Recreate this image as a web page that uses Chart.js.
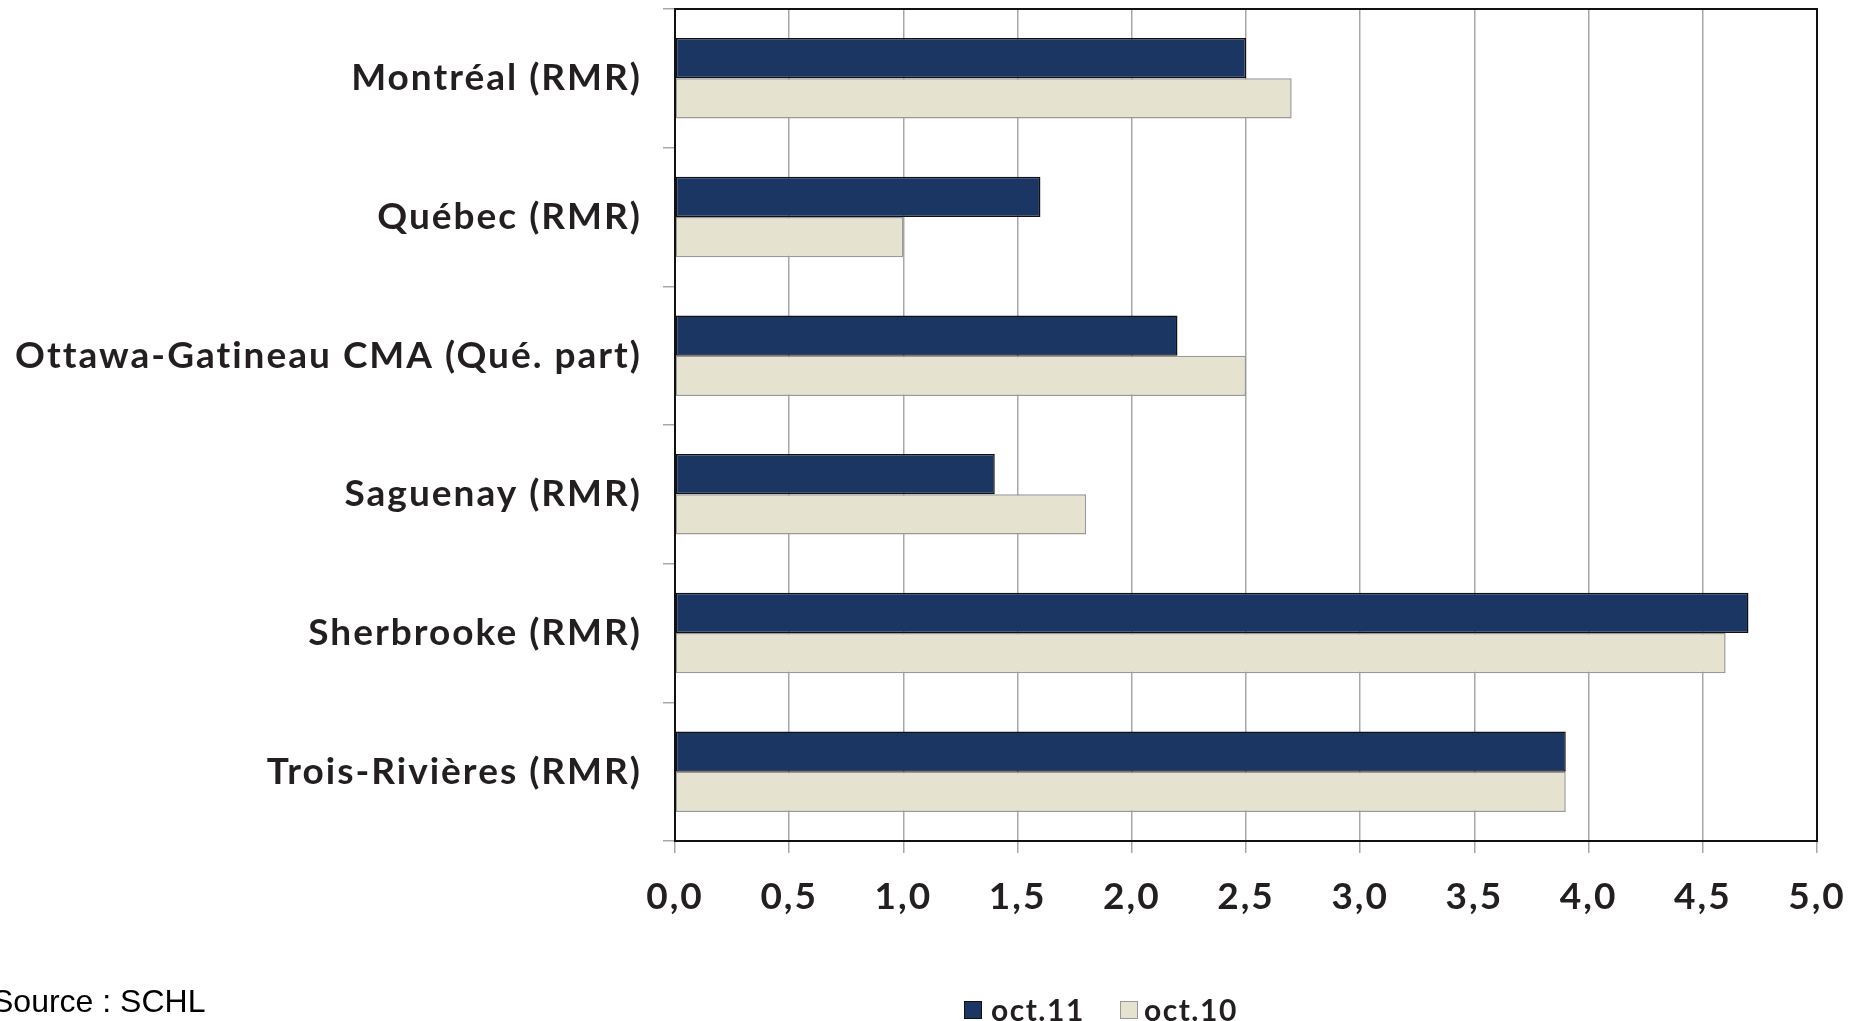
<!DOCTYPE html>
<html>
<head>
<meta charset="utf-8">
<script src="https://cdn.jsdelivr.net/npm/chart.js@4"></script>
<style>
  html, body { margin:0; padding:0; background:#fff; }
  #wrap { position:relative; width:1860px; height:1021px; overflow:hidden; }
  canvas { position:absolute; left:0; top:0; }
  .leg { position:absolute; font-family:Lato, sans-serif; font-weight:700; font-size:30px; color:#231f20; line-height:1; letter-spacing:1.5px; }
  .sw { position:absolute; width:16px; height:16px; }
  #src { position:absolute; left:-8px; top:983px; font-family:"Liberation Sans", Arial, sans-serif; font-size:32px; color:#000; }
</style>
</head>
<body>
<div id="wrap">
  <canvas id="c" width="1860" height="1021"></canvas>
  <div class="sw" style="left:964px; top:1001px; background:#1c3664; border:1.5px solid #111;"></div>
  <div class="leg" style="left:991px; top:994px;">oct.11</div>
  <div class="sw" style="left:1120px; top:1001px; background:#e5e3cf; border:1.5px solid #999;"></div>
  <div class="leg" style="left:1144px; top:994px;">oct.10</div>
  <div id="src">Source : SCHL</div>
</div>
<script>
const categories = ["Montréal (RMR)", "Québec (RMR)", "Ottawa-Gatineau CMA (Qué. part)", "Saguenay (RMR)", "Sherbrooke (RMR)", "Trois-Rivières (RMR)"];
const oct11 = [2.5, 1.6, 2.2, 1.4, 4.7, 3.9];
const oct10 = [2.7, 1.0, 2.5, 1.8, 4.6, 3.9];
const seriesLabels = ["oct.11", "oct.10"];

const frame = {
  id: 'frame',
  beforeDraw(chart) {
    chart.ctx.letterSpacing = '2px';
  },
  afterDraw(chart) {
    const a = chart.chartArea, ctx = chart.ctx;
    ctx.save();
    ctx.strokeStyle = '#111';
    ctx.lineWidth = 2;
    ctx.strokeRect(a.left, a.top, a.right - a.left, a.bottom - a.top);
    ctx.restore();
  }
};

new Chart(document.getElementById('c'), {
  type: 'bar',
  data: {
    labels: categories,
    datasets: [
      { label: seriesLabels[0], data: oct11, backgroundColor: '#1c3664', borderColor: '#111', borderWidth: 1.5, borderSkipped: false },
      { label: seriesLabels[1], data: oct10, backgroundColor: '#e5e3cf', borderColor: '#999', borderWidth: 1.5, borderSkipped: false }
    ]
  },
  options: {
    indexAxis: 'y',
    responsive: false,
    animation: false,
    devicePixelRatio: 1,
    layout: { padding: { top: 9, right: 43, bottom: 100, left: 0 } },
    datasets: { bar: { categoryPercentage: 0.58, barPercentage: 1.0 } },
    plugins: { legend: { display: false }, tooltip: { enabled: false } },
    scales: {
      x: {
        min: 0, max: 5,
        ticks: { stepSize: 0.5, padding: 22, color: '#231f20',
          font: { family: 'Lato', weight: 'bold', size: 37 },
          callback: v => v.toFixed(1).replace('.', ',') },
        grid: { color: '#a8a8a8', lineWidth: 1.5, tickLength: 12 },
        border: { color: '#111', width: 2 },
        afterFit: s => { s.height = 80; s.paddingLeft = 0; s.paddingRight = 0; }
      },
      y: {
        ticks: { padding: 21, color: '#231f20', font: { family: 'Lato', weight: 'bold', size: 37 } },
        grid: { offset: true, drawOnChartArea: false, tickLength: 12, color: '#a8a8a8', lineWidth: 1.5 },
        border: { color: '#111', width: 2 },
        afterFit: s => { s.width = 675; s.paddingTop = 0; s.paddingBottom = 0; }
      }
    }
  },
  plugins: [frame]
});
</script>
</body>
</html>
